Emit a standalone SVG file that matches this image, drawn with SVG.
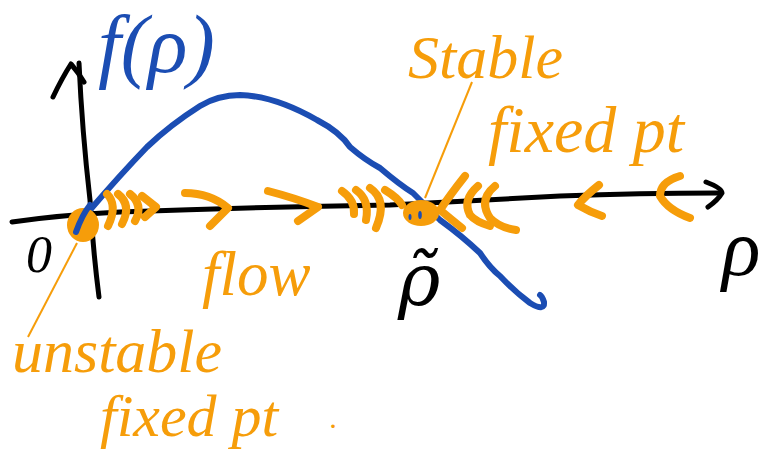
<svg xmlns="http://www.w3.org/2000/svg" width="778" height="453" viewBox="0 0 778 453">
<style>
.ink{fill:none;stroke-linecap:round;stroke-linejoin:round}
.blk{stroke:#000;stroke-width:5}
.blu{stroke:#1B4DB3;stroke-width:6}
.org{stroke:#F69D0A;stroke-width:8}
.lead{stroke:#F69D0A;stroke-width:2;fill:none}
.hand{font-family:"Liberation Serif",serif;font-style:italic}
.to{fill:#F69D0A}
.tb{fill:#1B4DB3}
.tk{fill:#000}
</style>
<rect width="778" height="453" fill="#fff"/>
<g id="axes">
<path class="ink blk" d="M12,222 Q60,215 120,212 Q260,207 390,205 Q480,200 560,196 Q640,193 718,193"/>
<path class="ink blk" d="M706,182 Q722,188 722,193 Q718,200 708,207"/>
<path class="ink blk" d="M99,297 Q93,250 90,200 Q82,130 79,63"/>
<path class="ink blk" d="M53,97 Q62,78 71,64 Q78,72 84,82"/>
</g>
<g id="curve">
<path class="ink blu" d="M90,210 Q120,175 147,147 Q170,125 200,106 Q218,95 240,95 Q275,96 317,120 Q340,132 350,147 Q365,160 380,168 Q400,185 413,193 Q428,208 440,220 Q462,236 480,253 Q490,268 500,276 Q515,292 530,303 Q545,312 544,302 Q542,296 540,295"/>
</g>
<g id="flow-arrows">
<path class="ink org" d="M107,194 Q118,205 108,226"/>
<path class="ink org" d="M118,194 Q132,205 122,224"/>
<path class="ink org" d="M130,194 Q144,205 135,221"/>
<path class="ink org" d="M142,196 L156,207 L145,217"/>
<path class="ink org" d="M185,193 Q210,193 228,208 L210,226"/>
<path class="ink org" d="M268,191 Q295,198 318,207 L298,221"/>
<path class="ink org" d="M342,191 Q355,200 354,214"/>
<path class="ink org" d="M356,190 Q370,200 366,220"/>
<path class="ink org" d="M370,188 Q388,200 376,228"/>
<path class="ink org" d="M385,190 Q398,198 402,205"/>
<path class="ink org" d="M465,176 Q450,195 440,210 Q452,220 462,228"/>
<path class="ink org" d="M478,186 Q462,200 470,215 Q476,222 490,226"/>
<path class="ink org" d="M495,186 Q478,200 490,218 Q500,228 516,230"/>
<path class="ink org" d="M599,185 Q585,196 578,205 Q590,212 602,216"/>
<path class="ink org" d="M680,176 Q660,182 660,196 Q668,210 690,218"/>
</g>
<g id="fixed-points">
<ellipse cx="83" cy="225" rx="16" ry="17" fill="#F69D0A"/>
<path class="ink blu" d="M76,232 Q82,215 90,205" stroke-width="3"/>
<ellipse cx="421" cy="213" rx="18" ry="13" fill="#F69D0A"/>
<ellipse cx="420" cy="215" rx="1.8" ry="4" fill="#1B4DB3"/>
<ellipse cx="410" cy="217" rx="1.5" ry="3" fill="#1B4DB3"/>
</g>
<g id="connectors">
<path class="lead" d="M77,243 L28,337"/>
<path class="lead" d="M425,198 L472,82"/>
</g>
<g id="labels">
<text class="hand tb" x="98" y="72" font-size="82">f(ρ)</text>
<text class="hand tk" x="26" y="272" font-size="52">0</text>
<text x="398" y="305" font-size="72" font-family="'DejaVu Serif',serif" font-style="italic" fill="#000">ρ̃</text>
<text class="hand tk" x="722" y="275" font-size="80">ρ</text>
<text class="hand to" x="408" y="78" font-size="62">Stable</text>
<text class="hand to" x="488" y="152" font-size="66">fixed pt</text>
<text class="hand to" x="202" y="295" font-size="63">flow</text>
<text class="hand to" x="12" y="372" font-size="62">unstable</text>
<text class="hand to" x="100" y="436" font-size="60">fixed pt</text>
<text class="hand to" x="330" y="428" font-size="30">.</text>
</g>
</svg>
